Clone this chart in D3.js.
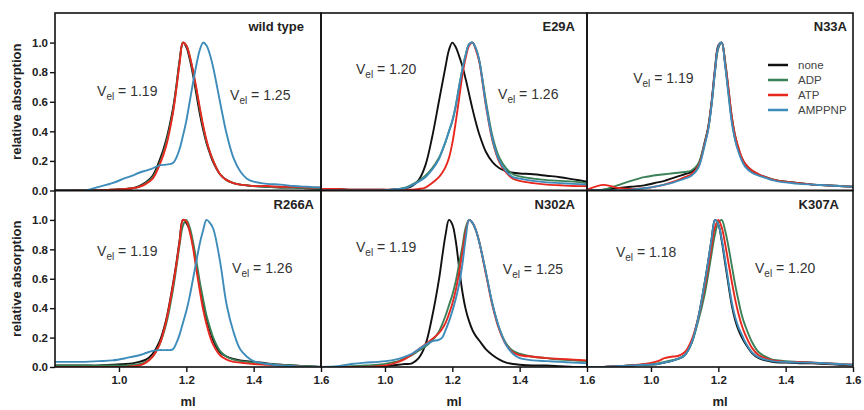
<!DOCTYPE html>
<html>
<head>
<meta charset="utf-8">
<script src="https://cdn.jsdelivr.net/npm/d3@7"></script>
<style>
  body { margin: 0; background: #fff; }
  svg { display: block; font-family: "Liberation Sans", Arial, sans-serif; }
</style>
</head>
<body>
<div class="chartWrapper"></div>
<script>
const chartWidth = 864, chartHeight = 410;

// elution volume grid (ml)
const volume = [0.81, 0.86, 0.90, 0.94, 0.98, 1.02, 1.04, 1.06, 1.08, 1.10, 1.12, 1.14, 1.16, 1.17, 1.18, 1.19, 1.20,
  1.21, 1.22, 1.23, 1.24, 1.25, 1.26, 1.27, 1.28, 1.30, 1.32, 1.34, 1.36, 1.38, 1.40, 1.44, 1.48, 1.52, 1.56, 1.60];

const seriesNames = ["none", "ADP", "ATP", "AMPPNP"];
const seriesColors = ["#111111", "#3b8157", "#e8281f", "#3e8cba"];
const panelNames = ["wild type", "E29A", "N33A", "R266A", "N302A", "K307A"];
const xTicks = [1.0, 1.2, 1.4, 1.6];
const yTicks = [0.0, 0.2, 0.4, 0.6, 0.8, 1.0];

// relative absorption, one array per nucleotide: none, ADP, ATP, AMPPNP
const wildType = [
  [0, 0, 0, 0, 0.005, 0.01, 0.015, 0.03, 0.055, 0.1, 0.2, 0.34, 0.55, 0.7, 0.88, 1.0, 0.97, 0.89, 0.78, 0.65, 0.52, 0.41, 0.32, 0.25, 0.19, 0.11, 0.07, 0.05, 0.04, 0.035, 0.03, 0.025, 0.02, 0.02, 0.015, 0.01],
  [0, 0, 0, 0, 0.005, 0.01, 0.015, 0.025, 0.05, 0.09, 0.18, 0.32, 0.53, 0.69, 0.87, 1.0, 0.98, 0.91, 0.8, 0.68, 0.55, 0.43, 0.33, 0.26, 0.2, 0.11, 0.07, 0.05, 0.04, 0.035, 0.03, 0.025, 0.02, 0.02, 0.015, 0.01],
  [0, 0, 0, 0, 0.005, 0.01, 0.015, 0.025, 0.045, 0.08, 0.17, 0.3, 0.52, 0.68, 0.86, 1.0, 0.98, 0.91, 0.81, 0.69, 0.56, 0.44, 0.34, 0.26, 0.2, 0.11, 0.07, 0.05, 0.04, 0.035, 0.03, 0.03, 0.025, 0.025, 0.02, 0.02],
  [0, 0, 0, 0.025, 0.05, 0.085, 0.1, 0.12, 0.135, 0.15, 0.17, 0.175, 0.185, 0.22, 0.28, 0.37, 0.47, 0.6, 0.73, 0.85, 0.95, 1.0, 0.98, 0.92, 0.83, 0.6, 0.38, 0.22, 0.13, 0.08, 0.06, 0.045, 0.04, 0.03, 0.025, 0.02]
];
const e29a = [
  [0.01, 0.01, 0.005, 0.005, 0.005, 0.005, 0.01, 0.015, 0.03, 0.07, 0.17, 0.36, 0.6, 0.72, 0.84, 0.95, 1.0, 0.97, 0.91, 0.84, 0.75, 0.65, 0.55, 0.46, 0.38, 0.26, 0.19, 0.15, 0.13, 0.12, 0.115, 0.11, 0.1, 0.09, 0.075, 0.06],
  [0, 0, 0, 0, 0, 0.005, 0.01, 0.02, 0.04, 0.065, 0.1, 0.15, 0.22, 0.27, 0.33, 0.4, 0.47, 0.57, 0.7, 0.82, 0.92, 0.99, 1.0, 0.96, 0.88, 0.6, 0.36, 0.22, 0.15, 0.11, 0.095, 0.08, 0.07, 0.065, 0.06, 0.05],
  [0.01, 0.01, 0.005, 0.005, 0.005, 0.005, 0.005, 0.005, 0.005, 0.01, 0.02, 0.05, 0.09, 0.12, 0.16, 0.22, 0.32, 0.46, 0.62, 0.78, 0.9, 0.98, 1.0, 0.95, 0.87, 0.57, 0.33, 0.19, 0.12, 0.08, 0.065, 0.05, 0.04, 0.035, 0.03, 0.03],
  [0, 0, 0, 0, 0, 0.005, 0.01, 0.015, 0.035, 0.06, 0.09, 0.14, 0.21, 0.27, 0.33, 0.4, 0.47, 0.57, 0.7, 0.82, 0.92, 0.99, 1.0, 0.96, 0.88, 0.58, 0.34, 0.2, 0.13, 0.09, 0.08, 0.065, 0.055, 0.05, 0.045, 0.04]
];
const n33a = [
  [0, 0.005, 0.015, 0.025, 0.035, 0.055, 0.065, 0.08, 0.095, 0.11, 0.125, 0.17, 0.33, 0.43, 0.6, 0.82, 0.98, 1.0, 0.86, 0.67, 0.48, 0.35, 0.27, 0.21, 0.17, 0.13, 0.105, 0.09, 0.075, 0.065, 0.06, 0.05, 0.04, 0.035, 0.03, 0.025],
  [0, 0.005, 0.035, 0.065, 0.09, 0.105, 0.11, 0.115, 0.12, 0.125, 0.135, 0.18, 0.33, 0.42, 0.58, 0.8, 0.96, 1.0, 0.88, 0.69, 0.5, 0.37, 0.28, 0.22, 0.18, 0.135, 0.11, 0.09, 0.075, 0.065, 0.06, 0.05, 0.04, 0.035, 0.03, 0.025],
  [0.005, 0.038, 0.018, 0.01, 0.015, 0.03, 0.04, 0.055, 0.07, 0.09, 0.11, 0.16, 0.32, 0.42, 0.59, 0.81, 0.97, 1.0, 0.87, 0.69, 0.5, 0.37, 0.29, 0.22, 0.18, 0.135, 0.11, 0.09, 0.075, 0.065, 0.06, 0.05, 0.04, 0.035, 0.03, 0.025],
  [0, 0, 0, 0.005, 0.015, 0.03, 0.04, 0.05, 0.065, 0.08, 0.1, 0.15, 0.31, 0.41, 0.58, 0.8, 0.97, 1.0, 0.85, 0.65, 0.46, 0.34, 0.26, 0.2, 0.16, 0.12, 0.1, 0.085, 0.07, 0.06, 0.055, 0.045, 0.04, 0.035, 0.03, 0.025]
];
const r266a = [
  [0.01, 0.01, 0.01, 0.01, 0.015, 0.02, 0.025, 0.035, 0.05, 0.09, 0.17, 0.32, 0.56, 0.7, 0.86, 1.0, 0.98, 0.93, 0.83, 0.69, 0.55, 0.43, 0.33, 0.25, 0.18, 0.1, 0.07, 0.055, 0.045, 0.04, 0.035, 0.025, 0.015, 0.01, 0.005, 0],
  [0.01, 0.01, 0.01, 0.01, 0.01, 0.01, 0.015, 0.02, 0.035, 0.07, 0.15, 0.29, 0.52, 0.67, 0.83, 0.96, 1.0, 0.95, 0.85, 0.72, 0.58, 0.46, 0.35, 0.27, 0.2, 0.11, 0.07, 0.05, 0.04, 0.035, 0.03, 0.02, 0.015, 0.01, 0.005, 0],
  [0, 0, 0, 0, 0, 0, 0.005, 0.01, 0.03, 0.07, 0.15, 0.31, 0.55, 0.69, 0.85, 1.0, 0.99, 0.92, 0.81, 0.66, 0.52, 0.39, 0.29, 0.21, 0.15, 0.08, 0.05, 0.035, 0.03, 0.025, 0.02, 0.015, 0.01, 0.005, 0, 0],
  [0.035, 0.035, 0.035, 0.04, 0.045, 0.06, 0.07, 0.08, 0.095, 0.11, 0.115, 0.115, 0.12, 0.16, 0.22, 0.3, 0.38, 0.48, 0.6, 0.72, 0.84, 0.93, 1.0, 0.98, 0.94, 0.72, 0.42, 0.24, 0.12, 0.07, 0.04, 0.02, 0.01, 0.005, 0, 0]
];
const n302a = [
  [0, 0, 0, 0, 0.005, 0.01, 0.015, 0.02, 0.025, 0.06, 0.15, 0.34, 0.59, 0.75, 0.9, 1.0, 0.97, 0.86, 0.68, 0.51, 0.39, 0.31, 0.25, 0.21, 0.18, 0.12, 0.08, 0.05, 0.03, 0.02, 0.015, 0.01, 0.01, 0.005, 0, 0],
  [0, 0, 0.005, 0.01, 0.015, 0.03, 0.04, 0.06, 0.08, 0.11, 0.14, 0.18, 0.24, 0.29, 0.35, 0.42, 0.49, 0.58, 0.7, 0.82, 0.95, 1.0, 0.98, 0.93, 0.85, 0.64, 0.42, 0.26, 0.16, 0.11, 0.09, 0.07, 0.06, 0.05, 0.045, 0.04],
  [0, 0, 0, 0, 0.005, 0.02, 0.035, 0.055, 0.085, 0.12, 0.155, 0.19, 0.23, 0.26, 0.3, 0.36, 0.43, 0.52, 0.64, 0.78, 0.92, 1.0, 0.98, 0.93, 0.85, 0.63, 0.41, 0.25, 0.15, 0.1, 0.08, 0.07, 0.06, 0.055, 0.05, 0.045],
  [0, 0.005, 0.02, 0.03, 0.035, 0.045, 0.055, 0.07, 0.09, 0.12, 0.15, 0.175, 0.185, 0.2, 0.25, 0.31, 0.38, 0.46, 0.56, 0.7, 0.88, 1.0, 0.98, 0.93, 0.85, 0.64, 0.42, 0.26, 0.15, 0.09, 0.06, 0.045, 0.04, 0.035, 0.03, 0.025]
];
const k307a = [
  [0, 0, 0.005, 0.01, 0.015, 0.02, 0.03, 0.04, 0.055, 0.08, 0.16, 0.33, 0.58, 0.72, 0.87, 1.0, 0.97, 0.86, 0.71, 0.56, 0.42, 0.32, 0.25, 0.2, 0.16, 0.095, 0.06, 0.045, 0.035, 0.03, 0.03, 0.025, 0.025, 0.02, 0.015, 0.01],
  [0, 0, 0.005, 0.01, 0.015, 0.025, 0.035, 0.045, 0.055, 0.08, 0.16, 0.31, 0.5, 0.63, 0.77, 0.9, 0.98, 1.0, 0.93, 0.82, 0.69, 0.56, 0.45, 0.35, 0.28, 0.17, 0.1, 0.07, 0.05, 0.045, 0.04, 0.035, 0.03, 0.025, 0.02, 0.015],
  [0, 0, 0.005, 0.01, 0.02, 0.04, 0.06, 0.07, 0.075, 0.1, 0.18, 0.33, 0.55, 0.68, 0.82, 0.95, 1.0, 0.95, 0.84, 0.71, 0.58, 0.46, 0.36, 0.28, 0.22, 0.13, 0.08, 0.06, 0.045, 0.04, 0.035, 0.035, 0.03, 0.025, 0.02, 0.015],
  [0, 0, 0.005, 0.01, 0.015, 0.02, 0.03, 0.04, 0.055, 0.08, 0.16, 0.33, 0.58, 0.72, 0.87, 1.0, 0.97, 0.87, 0.73, 0.58, 0.44, 0.34, 0.27, 0.22, 0.17, 0.1, 0.065, 0.05, 0.04, 0.035, 0.035, 0.03, 0.03, 0.025, 0.02, 0.015]
];
const panelData = [wildType, e29a, n33a, r266a, n302a, k307a];

// elution volumes written in each panel (left value, right value)
const elutionVolumes = [["1.19", "1.25"], ["1.20", "1.26"], ["1.19", null], ["1.19", "1.26"], ["1.19", "1.25"], ["1.18", "1.20"]];

// layout
const colLeft = [55, 321, 587], panelWidth = 266;
const rowTop = [13, 190.5], rowHeight = [177.5, 176.5];
const titleRight = [17, 12, 6, 7, 12, 14];
// label anchor in data units [ml, absorption] for left and right Vel labels
const velPlacement = [
  [[0.935, 0.64], [1.33, 0.61]],
  [[0.914, 0.79], [1.336, 0.62]],
  [[0.947, 0.73], null],
  [[0.935, 0.755], [1.336, 0.64]],
  [[0.914, 0.78], [1.35, 0.63]],
  [[0.896, 0.745], [1.309, 0.64]]
];

const svg = d3.select(".chartWrapper").append("svg")
  .attr("width", chartWidth)
  .attr("height", chartHeight);

panelData.forEach((curves, i) => {
  const col = i % 3, row = Math.floor(i / 3);
  const left = colLeft[col], top = rowTop[row], h = rowHeight[row];

  const x = d3.scaleLinear().domain([0.81, 1.6]).range([left, left + panelWidth]);
  const y = d3.scaleLinear().domain([0, 1.2]).range([top + h, top]);

  const clipId = "clip" + i;
  svg.append("clipPath").attr("id", clipId)
    .append("rect")
    .attr("x", left).attr("y", top)
    .attr("width", panelWidth).attr("height", h);

  const line = d3.line()
    .x((d, k) => x(volume[k]))
    .y(d => y(d))
    .curve(d3.curveCatmullRom.alpha(0.5));

  const g = svg.append("g").attr("clip-path", `url(#${clipId})`);
  curves.forEach((values, s) => {
    g.append("path")
      .attr("d", line(values))
      .attr("fill", "none")
      .attr("stroke", seriesColors[s])
      .attr("stroke-width", 1.9)
      .attr("stroke-linejoin", "round");
  });

  // frame
  svg.append("rect")
    .attr("x", left).attr("y", top)
    .attr("width", panelWidth).attr("height", h)
    .attr("fill", "none")
    .attr("stroke", "#111")
    .attr("stroke-width", 1.6);

  // panel title
  svg.append("text")
    .attr("x", left + panelWidth - titleRight[i])
    .attr("y", top + 18)
    .attr("text-anchor", "end")
    .attr("font-size", 13)
    .attr("font-weight", "bold")
    .attr("fill", "#222")
    .text(panelNames[i]);

  // elution volume labels
  elutionVolumes[i].forEach((vel, side) => {
    if (!vel) return;
    const pos = velPlacement[i][side];
    const t = svg.append("text")
      .attr("x", x(pos[0]))
      .attr("y", y(pos[1]))
      .attr("font-size", 14)
      .attr("fill", "#333");
    t.append("tspan").text("V");
    t.append("tspan").attr("font-size", 10).attr("dy", 4).text("el");
    t.append("tspan").attr("dy", -4).text(" = " + vel);
  });

  if (col === 0) {
    const yAxis = svg.append("g")
      .attr("transform", `translate(${left},0)`)
      .call(d3.axisLeft(y).tickValues(yTicks).tickFormat(d3.format(".1f")).tickSize(5).tickPadding(2));
    yAxis.select(".domain").remove();
    yAxis.selectAll("line").attr("stroke", "#111").attr("stroke-width", 1.4);
    yAxis.selectAll("text")
      .attr("font-family", "Liberation Sans, Arial, sans-serif")
      .attr("font-size", 11.5).attr("font-weight", "bold").attr("fill", "#222");

    svg.append("text")
      .attr("transform", `translate(21,${top + h / 2}) rotate(-90)`)
      .attr("text-anchor", "middle")
      .attr("font-size", 13)
      .attr("font-weight", "bold")
      .attr("fill", "#222")
      .text("relative absorption");
  }

  if (row === 1) {
    const xAxis = svg.append("g")
      .attr("transform", `translate(0,${top + h})`)
      .call(d3.axisBottom(x).tickValues(xTicks).tickFormat(d3.format(".1f")).tickSize(5).tickPadding(4));
    xAxis.select(".domain").remove();
    xAxis.selectAll("line").attr("stroke", "#111").attr("stroke-width", 1.4);
    xAxis.selectAll("text")
      .attr("font-family", "Liberation Sans, Arial, sans-serif")
      .attr("font-size", 11.5).attr("font-weight", "bold").attr("fill", "#222");

    svg.append("text")
      .attr("x", left + panelWidth / 2)
      .attr("y", 406)
      .attr("text-anchor", "middle")
      .attr("font-size", 13)
      .attr("font-weight", "bold")
      .attr("fill", "#222")
      .text("ml");
  }

  // legend sits in the N33A panel
  if (i === 2) {
    const legend = svg.append("g").attr("transform", `translate(${left + 181},${top + 52})`);
    seriesNames.forEach((name, s) => {
      legend.append("line")
        .attr("x1", 0).attr("x2", 20)
        .attr("y1", s * 15).attr("y2", s * 15)
        .attr("stroke", seriesColors[s])
        .attr("stroke-width", 2.5);
      legend.append("text")
        .attr("x", 30).attr("y", s * 15 + 4)
        .attr("font-size", 11.5)
        .attr("fill", "#444")
        .text(name);
    });
  }
});
</script>
</body>
</html>
